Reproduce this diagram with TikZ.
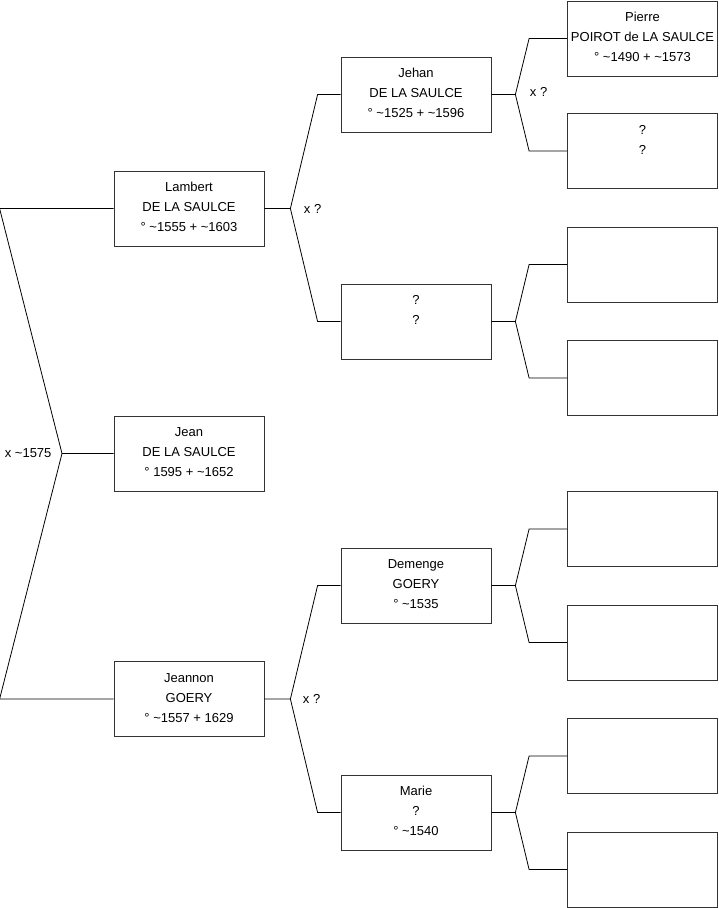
\documentclass[tikz,border=0pt]{standalone}
\usepackage{fontspec}
\setmainfont{Liberation Sans}
\usepackage{tikz}
\usetikzlibrary{positioning}
\newcommand{\ca}{\textasciitilde}
\newcommand{\three}[3]{\strut#1\\\strut#2\\\strut#3\rule[-8pt]{0pt}{8pt}}

\begin{document}
\begin{tikzpicture}[
    x=1pt, y=-1pt,
    person/.style={rectangle, draw=black!80, line width=0.8pt, minimum width=150pt, minimum height=75pt, inner sep=0pt, align=center, font=\fontsize{13}{20}\selectfont},
    link/.style={draw=black, line width=0.8pt},
    union/.style={font=\fontsize{13}{15}\selectfont}
]
\useasboundingbox (0,0) rectangle (719,908);

% Generation 1 and 2
\node[person] (Lambert) at (189,208.5) {\three{Lambert}{DE LA SAULCE}{° \ca1555 + \ca1603}};
\node[person] (Jean) at (189,453.5) {\three{Jean}{DE LA SAULCE}{° 1595 + \ca1652}};
\node[person] (Jeannon) at (189,699) {\three{Jeannon}{GOERY}{° \ca1557 + 1629}};

% Generation 3
\node[person] (Jehan) at (416,94.5) {\three{Jehan}{DE LA SAULCE}{° \ca1525 + \ca1596}};
\node[person] (QA) at (416,321.5) {\three{?}{?}{}};
\node[person] (Demenge) at (416,585.5) {\three{Demenge}{GOERY}{° \ca1535}};
\node[person] (Marie) at (416,812.5) {\three{Marie}{?}{° \ca1540}};

% Generation 4
\node[person] (Pierre) at (642.5,38.5) {\three{Pierre}{POIROT de LA SAULCE}{° \ca1490 + \ca1573}};
\node[person] (QB) at (642.5,151) {\three{?}{?}{}};
\node[person] (E1) at (642.5,264.5) {};
\node[person] (E2) at (642.5,378) {};
\node[person] (E3) at (642.5,529) {};
\node[person] (E4) at (642.5,642.5) {};
\node[person] (E5) at (642.5,756) {};
\node[person] (E6) at (642.5,869.5) {};

% Parents of Jean
\coordinate (uJean) at (62,453.5);
\draw[link] (Jean.west) -- (uJean) -- ([xshift=-114]Lambert.west) -- (Lambert.west);
\draw[link] (uJean) -- ([xshift=-114]Jeannon.west) -- (Jeannon.west);
\node[union, left=7pt of uJean] (mJean) {x \ca1575};

% Parents of Lambert
\draw[link] (Lambert.east) -- ++(26,0) coordinate (uLambert) -- ([xshift=-23]Jehan.west) -- (Jehan.west);
\draw[link] (uLambert) -- ([xshift=-23]QA.west) -- (QA.west);
\node[union, right=10pt of uLambert] (mLambert) {x ?};

% Parents of Jeannon
\draw[link] (Jeannon.east) -- ++(26,0) coordinate (uJeannon) -- ([xshift=-23]Demenge.west) -- (Demenge.west);
\draw[link] (uJeannon) -- ([xshift=-23]Marie.west) -- (Marie.west);
\node[union, right=9pt of uJeannon] (mJeannon) {x ?};

% Parents of Jehan
\draw[link] (Jehan.east) -- ++(24,0) coordinate (uJehan) -- ([xshift=-38]Pierre.west) -- (Pierre.west);
\draw[link] (uJehan) -- ([xshift=-38]QB.west) -- (QB.west);
\node[union, right=11pt of uJehan, yshift=3pt] (mJehan) {x ?};

% Parents of the others
\draw[link] (QA.east) -- ++(24,0) coordinate (uQA) -- ([xshift=-38]E1.west) -- (E1.west);
\draw[link] (uQA) -- ([xshift=-38]E2.west) -- (E2.west);
\draw[link] (Demenge.east) -- ++(24,0) coordinate (uDemenge) -- ([xshift=-38]E3.west) -- (E3.west);
\draw[link] (uDemenge) -- ([xshift=-38]E4.west) -- (E4.west);
\draw[link] (Marie.east) -- ++(24,0) coordinate (uMarie) -- ([xshift=-38]E5.west) -- (E5.west);
\draw[link] (uMarie) -- ([xshift=-38]E6.west) -- (E6.west);

\end{tikzpicture}
\end{document}
